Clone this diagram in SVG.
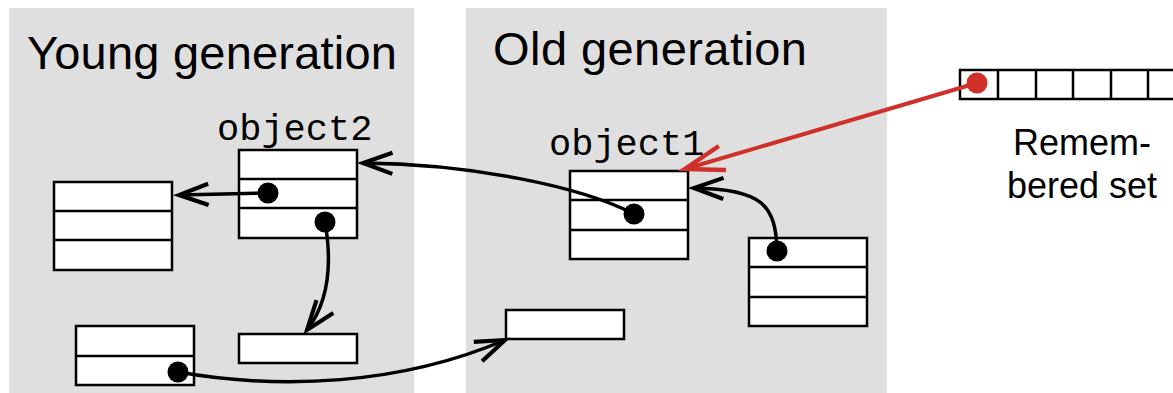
<svg xmlns="http://www.w3.org/2000/svg" width="1173" height="393" viewBox="0 0 1173 393">
<style>
.panel{fill:#dfdfdf;stroke:none}
.cell{fill:#fff;stroke:#000;stroke-width:2.5}
.sep{stroke:#000;stroke-width:2.5;fill:none}
.dot{fill:#000}
.title{font-family:"Liberation Sans",Arial,sans-serif;font-size:47px;fill:#000}
.mono{font-family:"Liberation Mono","Courier New",monospace;font-size:37px;fill:#000}
.lbl{font-family:"Liberation Sans",Arial,sans-serif;font-size:36px;fill:#000;text-anchor:middle}
.conn{fill:none;stroke:#000;stroke-width:3.5;marker-end:url(#ah)}
.red{fill:none;stroke:#d0302a;stroke-width:4;marker-end:url(#ahr)}
</style>
<defs>
<marker id="ah" markerUnits="userSpaceOnUse" orient="auto" markerWidth="40" markerHeight="40" viewBox="-30 -15 34 30" refX="0" refY="0" overflow="visible">
<path d="M-25,-9 L0,0 L-25,9" fill="none" stroke="#000" stroke-width="3.5"/>
</marker>
<marker id="ahr" markerUnits="userSpaceOnUse" orient="auto" markerWidth="50" markerHeight="50" viewBox="-45 -20 50 40" refX="0" refY="0" overflow="visible">
<path d="M-39,-12.5 L0,0 L-39,12.5" fill="none" stroke="#d0302a" stroke-width="4.5"/>
</marker>
</defs>
<g id="young-generation">
<rect class="panel" x="9" y="8" width="405" height="385"/>
<text class="title" x="27" y="69" textLength="370">Young generation</text>
</g>
<g id="old-generation">
<rect class="panel" x="466" y="8" width="421" height="385"/>
<text class="title" x="493" y="65" textLength="314">Old generation</text>
</g>
<g id="young-left">
<rect class="cell" x="54" y="182" width="118" height="88"/>
<path class="sep" d="M54,211H172M54,240H172"/>
</g>
<g id="object2">
<text class="mono" x="217" y="140">object2</text>
<rect class="cell" x="239" y="150" width="118" height="88"/>
<path class="sep" d="M239,179H357M239,208H357"/>
<circle class="dot" cx="268" cy="193" r="10.5"/>
<circle class="dot" cx="325" cy="222" r="10.5"/>
</g>
<g id="young-bottom-left">
<rect class="cell" x="76" y="326" width="118" height="59"/>
<path class="sep" d="M76,356H194"/>
<circle class="dot" cx="178" cy="372" r="10.5"/>
</g>
<g id="young-bottom">
<rect class="cell" x="239" y="334" width="118" height="29"/>
</g>
<g id="object1">
<text class="mono" x="549" y="155">object1</text>
<rect class="cell" x="570" y="171" width="118" height="88"/>
<path class="sep" d="M570,200H688M570,230H688"/>
<circle class="dot" cx="634" cy="214" r="10.5"/>
</g>
<g id="old-right">
<rect class="cell" x="749" y="238" width="118" height="88"/>
<path class="sep" d="M749,267H867M749,297H867"/>
<circle class="dot" cx="777" cy="251" r="10.5"/>
</g>
<g id="old-bottom">
<rect class="cell" x="506" y="310" width="118" height="29"/>
</g>
<g id="remembered-set">
<rect class="cell" x="960" y="70" width="230" height="29"/>
<path class="sep" d="M998,70V99M1036,70V99M1073,70V99M1111,70V99M1148,70V99"/>
<text class="lbl" x="1082" y="155">Remem-</text>
<text class="lbl" x="1082" y="198">bered set</text>
</g>
<g id="connectors">
<path class="conn" d="M268,193 L179,195"/>
<path class="conn" d="M325,222 C332,262 330,300 307,330"/>
<path class="conn" d="M634,214 C580,186 470,164 363,163"/>
<path class="conn" d="M777,251 C776,205 762,189 694,188"/>
<path class="conn" d="M178,372 C280,390 400,385 505,340"/>
<path class="red" d="M977,83 L685,169"/>
<circle cx="977" cy="83" r="10.5" fill="#d0302a"/>
</g>
</svg>
